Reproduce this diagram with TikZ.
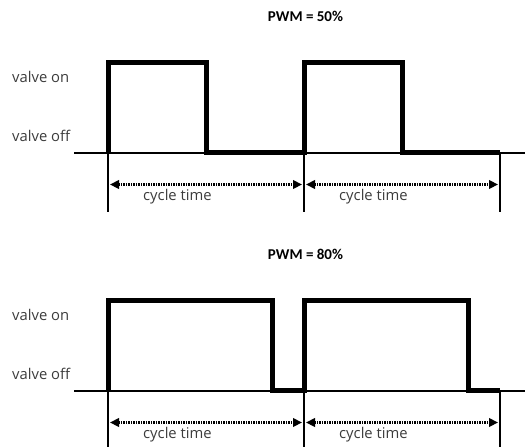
\documentclass[tikz,border=0pt]{standalone}
\usepackage{fontspec}
\usetikzlibrary{arrows.meta,calc}
\newfontfamily\lblfont{Open Sans}
\newfontfamily\ttlfont{Carlito}
\definecolor{lblgray}{HTML}{3C3C3C}

\begin{document}
\begin{tikzpicture}
  [x=1pt,y=-1pt,every node/.style={inner sep=0pt},
   wave/.style={line width=5pt,line join=miter},
   axis/.style={line width=2pt},
   tick/.style={line width=2pt},
   period/.style={line width=2.3pt,dash pattern=on 1.5pt off 1pt,
     {Triangle[length=9pt,width=8.5pt]}-{Triangle[length=9pt,width=8.5pt]}},
   lbl/.style={text=lblgray,font=\lblfont\fontsize{14.8}{16}\selectfont},
   ttl/.style={font=\ttlfont\bfseries\fontsize{15}{17}\selectfont}]
  \useasboundingbox (0,0) rectangle (525,447);

  \foreach \y/\duty/\on in {152.5/50/98, 390.5/80/164}{
    \node[ttl] (t\duty) at (305.5,\y-136) {PWM = \duty\%};
    \node[lbl,anchor=west] (on\duty) at (12,\y-76) {valve on};
    \node[lbl,anchor=west] (off\duty) at (12,\y-17) {valve off};

    \coordinate (a\duty) at (74,\y);
    \coordinate (b\duty) at (525,\y);
    \draw[axis] (a\duty) -- (b\duty);

    \foreach \x/\n in {108/1, 304/2, 500/3}{
      \coordinate (e\n) at (\x,\y);
      \draw[tick] (e\n) -- ++(0,59);
    }

    \draw[wave] (e1) -- ++(0,-90) -- ++(\on,0) -- ++(0,90) -- (e2)
      -- ++(0,-90) -- ++(\on,0) -- ++(0,90) -- (e3);

    \draw[period] ($(e1)+(2,32)$) -- ($(e2)+(-2,32)$);
    \draw[period] ($(e2)+(2,32)$) -- ($(e3)+(-2,32)$);
    \node[lbl,anchor=west] (c1\duty) at ($(e1)+(35,44)$) {cycle time};
    \node[lbl,anchor=west] (c2\duty) at ($(e2)+(35,44)$) {cycle time};
  }
\end{tikzpicture}
\end{document}
